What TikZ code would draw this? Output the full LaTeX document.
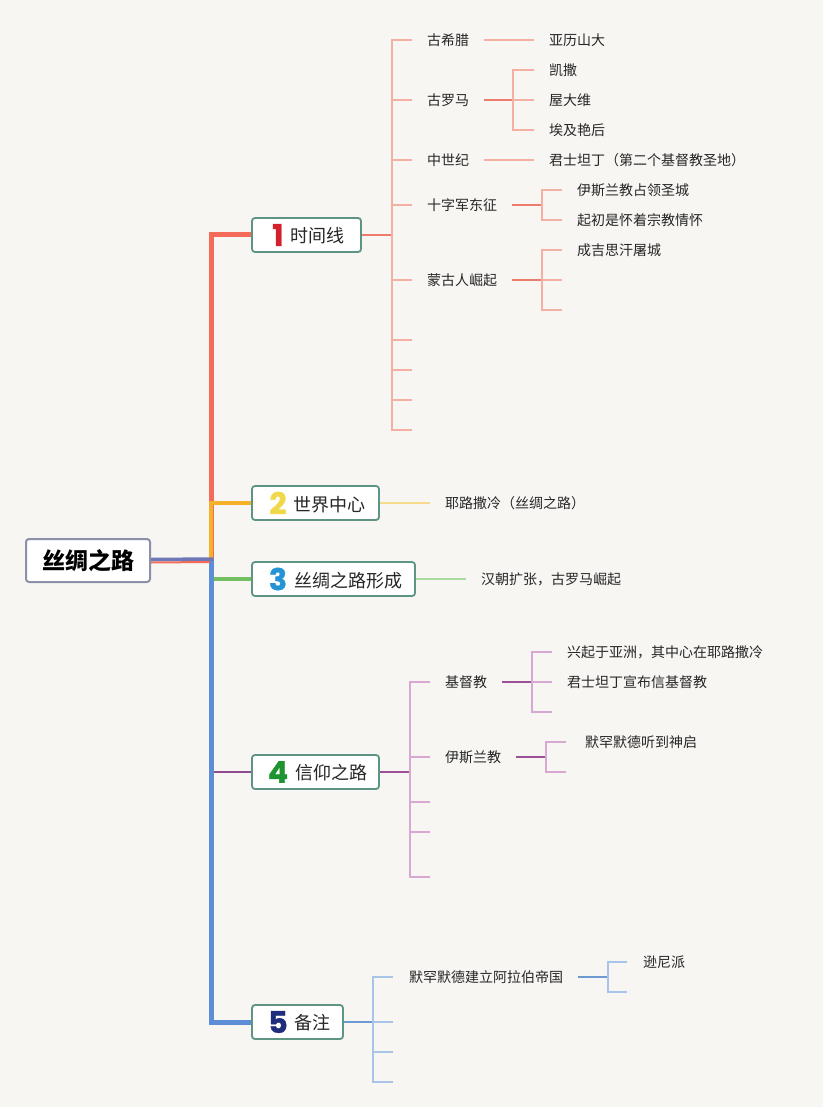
\documentclass[tikz,border=0pt]{standalone}
\usepackage{fontspec}
\usetikzlibrary{backgrounds}
\setmainfont{Noto Sans CJK SC}
\newfontfamily\numfont{Poppins}
\definecolor{bg}{HTML}{F7F6F3}
\definecolor{tred}{HTML}{F46B5A}
\definecolor{torange}{HTML}{F6B12A}
\definecolor{tgreen}{HTML}{74C061}
\definecolor{tpurple}{HTML}{8E4C8E}
\definecolor{tblue}{HTML}{5B8ED4}
\definecolor{troot}{HTML}{6E78B6}
\definecolor{sOneD}{HTML}{EE7C6C}
\definecolor{sOneL}{HTML}{F5B0A4}
\definecolor{sTwo}{HTML}{F6DA8E}
\definecolor{sThree}{HTML}{A9DA9E}
\definecolor{sFourD}{HTML}{9A5198}
\definecolor{sFourL}{HTML}{D6A8D2}
\definecolor{sFiveD}{HTML}{6D9AD3}
\definecolor{sFiveL}{HTML}{A8C4E8}
\definecolor{nOne}{HTML}{D4202C}
\definecolor{nTwo}{HTML}{F0D84A}
\definecolor{nThree}{HTML}{2594D6}
\definecolor{nFour}{HTML}{1E9430}
\definecolor{nFive}{HTML}{202C7C}
\definecolor{boxline}{HTML}{5E9484}
\definecolor{rootline}{HTML}{8B8FA7}
\definecolor{txt}{HTML}{262626}
\newcommand\mmbranch[3]{\hspace*{4pt}\raisebox{-1.5pt}{\numfont\bfseries\addfontfeature{FakeBold=1.2}\fontsize{30}{30}\selectfont\color{#1}#2}\hspace{7pt}\raisebox{1.5pt}{\fontsize{18}{18}\selectfont #3}}
\begin{document}
\begin{tikzpicture}[x=1pt,y=-1pt,
  rootbox/.style={draw=rootline, line width=2pt, fill=white, rounded corners=3pt,
    minimum width=124pt, minimum height=43pt, text=black,
    font=\bfseries\fontsize{23}{23}\selectfont},
  mainbox/.style={draw=boxline, line width=1.8pt, fill=white, rounded corners=3pt,
    minimum height=34pt, inner sep=0pt, text=txt},
  leaf/.style={anchor=west, inner xsep=15pt, inner ysep=2pt, text=txt,
    font=\fontsize{14}{14}\selectfont},
  sub/.style={line width=1.5pt}
]
\useasboundingbox (0,0) rectangle (823,1107);

% ---------- main nodes ----------
\node[rootbox] (root) at (88,560.5) {丝绸之路};
\node[mainbox, minimum width=109pt] (n1) at (306.5,235) {\mmbranch{nOne}{1}{时间线}};
\node[mainbox, minimum width=127pt] (n2) at (315.5,503) {\mmbranch{nTwo}{2}{世界中心}};
\node[mainbox, minimum width=163pt] (n3) at (333.5,579) {\mmbranch{nThree}{3}{丝绸之路形成}};
\node[mainbox, minimum width=127pt] (n4) at (315.5,772) {\mmbranch{nFour}{4}{信仰之路}};
\node[mainbox, minimum width=91pt] (n5) at (297.5,1022) {\mmbranch{nFive}{5}{备注}};

% ---------- trunk ----------
\coordinate (tr) at (211,560);
\begin{scope}[on background layer]
\fill[bg] (0,0) rectangle (823,1107);
\draw[tred, line width=5pt] (tr) |- (n1.west);
\draw[torange, line width=4pt] (tr) |- (n2.west);
\draw[tgreen, line width=4pt] (tr) |- (n3.west);
\draw[tpurple, line width=2pt] (tr) |- (n4.west);
\draw[tblue, line width=5pt] (tr) |- (n5.west);
\draw[tred, line width=2pt] ([yshift=-2pt]root.east) -- ([yshift=-2pt, xshift=-1pt]tr);
\draw[troot, line width=3.5pt] ([yshift=1pt]root.east) -- ([yshift=1pt, xshift=2.5pt]tr);
\end{scope}

% ---------- branch 1 ----------
\node[leaf] (a1) at (412,40) {古希腊};
\node[leaf] (a2) at (412,100) {古罗马};
\node[leaf] (a3) at (412,160) {中世纪};
\node[leaf] (a4) at (412,205) {十字军东征};
\node[leaf] (a5) at (412,280) {蒙古人崛起};
\coordinate (a6) at (412,340);
\coordinate (a7) at (412,370);
\coordinate (a8) at (412,400);
\coordinate (a9) at (412,430);
\coordinate (j1) at (392,235);
\draw[sOneD, line width=2pt] (n1.east) -- (j1);
\foreach \c in {a1,a2,a3,a4,a5}{\draw[sOneL, sub] (j1) |- (\c.west);}
\foreach \c in {a6,a7,a8,a9}{\draw[sOneL, sub] (j1) |- (\c);}

\node[leaf] (b1) at (534,40) {亚历山大};
\draw[sOneL, sub] (a1.east) -- (b1.west);

\node[leaf] (b2) at (534,70) {凯撒};
\node[leaf] (b3) at (534,100) {屋大维};
\node[leaf] (b4) at (534,130) {埃及艳后};
\coordinate (j12) at (513,100);
\draw[sOneD, sub] (a2.east) -- (j12);
\foreach \c in {b2,b3,b4}{\draw[sOneL, sub] (j12) |- (\c.west);}

\node[leaf] (b5) at (534,160) {君士坦丁（第二个基督教圣地）};
\draw[sOneL, sub] (a3.east) -- (b5.west);

\node[leaf] (b6) at (562,190) {伊斯兰教占领圣城};
\node[leaf] (b7) at (562,220) {起初是怀着宗教情怀};
\coordinate (j14) at (542,205);
\draw[sOneD, sub] (a4.east) -- (j14);
\foreach \c in {b6,b7}{\draw[sOneL, sub] (j14) |- (\c.west);}

\node[leaf] (b8) at (562,250) {成吉思汗屠城};
\coordinate (b9) at (562,280);
\coordinate (b10) at (562,310);
\coordinate (j15) at (542,280);
\draw[sOneD, sub] (a5.east) -- (j15);
\draw[sOneL, sub] (j15) |- (b8.west);
\draw[sOneL, sub] (j15) |- (b9);
\draw[sOneL, sub] (j15) |- (b10);

% ---------- branch 2 ----------
\node[leaf] (c1) at (430,503) {耶路撒冷（丝绸之路）};
\draw[sTwo, sub] (n2.east) -- (c1.west);

% ---------- branch 3 ----------
\node[leaf] (d1) at (466,579) {汉朝扩张，古罗马崛起};
\draw[sThree, sub] (n3.east) -- (d1.west);

% ---------- branch 4 ----------
\node[leaf] (e1) at (430,682) {基督教};
\node[leaf] (e2) at (430,757) {伊斯兰教};
\coordinate (e3) at (430,802);
\coordinate (e4) at (430,832);
\coordinate (e5) at (430,877);
\coordinate (j4) at (410,772);
\draw[sFourD, line width=2pt] (n4.east) -- (j4);
\foreach \c in {e1,e2}{\draw[sFourL, sub] (j4) |- (\c.west);}
\foreach \c in {e3,e4,e5}{\draw[sFourL, sub] (j4) |- (\c);}

\node[leaf] (f1) at (552,652) {兴起于亚洲，其中心在耶路撒冷};
\node[leaf] (f2) at (552,682) {君士坦丁宣布信基督教};
\coordinate (f3) at (552,712);
\coordinate (j41) at (532,682);
\draw[sFourD, sub] (e1.east) -- (j41);
\draw[sFourL, sub] (j41) |- (f1.west);
\draw[sFourL, sub] (j41) |- (f2.west);
\draw[sFourL, sub] (j41) |- (f3);

\node[leaf, inner xsep=19pt] (f4) at (566,742) {默罕默德听到神启};
\coordinate (f5) at (566,772);
\coordinate (j42) at (546,757);
\draw[sFourD, sub] (e2.east) -- (j42);
\draw[sFourL, sub] (j42) |- (f4.west);
\draw[sFourL, sub] (j42) |- (f5);

% ---------- branch 5 ----------
\node[leaf, inner xsep=16pt, text width=153pt, align=left] (g1) at (393,977) {默罕默德建立阿拉伯帝国};
\coordinate (g2) at (393,1022);
\coordinate (g3) at (393,1052);
\coordinate (g4) at (393,1082);
\coordinate (j5) at (373,1022);
\draw[sFiveD, line width=2pt] (n5.east) -- (j5);
\draw[sFiveL, sub] (j5) |- (g1.west);
\foreach \c in {g2,g3,g4}{\draw[sFiveL, sub] (j5) |- (\c);}

\node[leaf, inner xsep=16pt] (h1) at (627,962) {逊尼派};
\coordinate (h2) at (627,992);
\coordinate (j51) at (608,977);
\draw[sFiveD, sub] (g1.east) -- (j51);
\draw[sFiveL, sub] (j51) |- (h1.west);
\draw[sFiveL, sub] (j51) |- (h2);
\end{tikzpicture}
\end{document}
